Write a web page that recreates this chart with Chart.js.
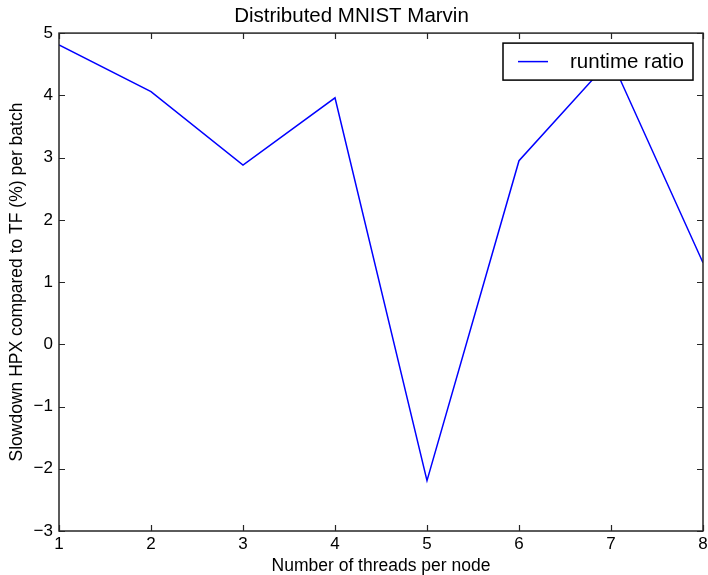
<!DOCTYPE html>
<html>
<head>
<meta charset="utf-8">
<script src="https://cdn.jsdelivr.net/npm/chart.js@4/dist/chart.umd.min.js"></script>
<style>
  html, body { margin: 0; padding: 0; background: #ffffff; }
  canvas { display: block; }
</style>
</head>
<body>
<canvas id="c" width="708" height="575"></canvas>
<script>
const threadsPerNode = [1, 2, 3, 4, 5, 6, 7, 8];
const runtimeRatio = [4.81, 4.06, 2.88, 3.96, -2.19, 2.95, 4.58, 1.31];
const xTicks = [1, 2, 3, 4, 5, 6, 7, 8];
const yTicks = [-3, -2, -1, 0, 1, 2, 3, 4, 5];
const seriesLabel = 'runtime ratio';
const chartTitle = 'Distributed MNIST Marvin';
const xTitle = 'Number of threads per node';
const yTitle = 'Slowdown HPX compared to TF (%) per batch';

const FONT = '"Liberation Sans", Arial, sans-serif';
const fmt = v => String(v).replace('-', '\u2212');

const frame = {
  id: 'frame',
  afterDatasetsDraw(chart) {
    const {ctx, chartArea: a, scales} = chart;
    ctx.save();
    ctx.strokeStyle = '#262626';
    ctx.lineWidth = 1.2;
    const T = 6;
    ctx.beginPath();
    scales.x.ticks.forEach(t => {
      const px = Math.round(scales.x.getPixelForValue(t.value)) + 0.5;
      ctx.moveTo(px, a.bottom); ctx.lineTo(px, a.bottom - T);
      ctx.moveTo(px, a.top); ctx.lineTo(px, a.top + T);
    });
    scales.y.ticks.forEach(t => {
      const py = Math.round(scales.y.getPixelForValue(t.value)) + 0.5;
      ctx.moveTo(a.left, py); ctx.lineTo(a.left + T, py);
      ctx.moveTo(a.right, py); ctx.lineTo(a.right - T, py);
    });
    ctx.stroke();
    ctx.lineWidth = 1.5;
    ctx.strokeRect(a.left, a.top, a.right - a.left, a.bottom - a.top);

    // legend box
    const ds = chart.data.datasets[0];
    const bw = 190, bh = 37;
    const bx = a.right - 10 - bw, by = a.top + 10;
    ctx.fillStyle = '#ffffff';
    ctx.fillRect(bx, by, bw, bh);
    ctx.strokeStyle = '#000000';
    ctx.lineWidth = 1.5;
    ctx.strokeRect(bx, by, bw, bh);
    ctx.strokeStyle = ds.borderColor;
    ctx.lineWidth = ds.borderWidth;
    ctx.beginPath();
    ctx.moveTo(bx + 15, by + bh / 2);
    ctx.lineTo(bx + 45, by + bh / 2);
    ctx.stroke();
    ctx.fillStyle = '#000000';
    ctx.font = '20.5px ' + FONT;
    ctx.textBaseline = 'middle';
    ctx.textAlign = 'left';
    ctx.fillText(ds.label, bx + 67, by + bh / 2 + 1);
    ctx.restore();
  }
};

new Chart(document.getElementById('c'), {
  type: 'line',
  data: {
    datasets: [{
      label: seriesLabel,
      data: threadsPerNode.map((t, i) => ({x: t, y: runtimeRatio[i]})),
      borderColor: '#0000ff',
      borderWidth: 1.5,
      pointRadius: 0,
      tension: 0,
      fill: false
    }]
  },
  options: {
    responsive: false,
    animation: false,
    layout: { padding: { right: 5, left: 0, top: 0, bottom: 0 } },
    plugins: {
      legend: { display: false },
      tooltip: { enabled: false },
      title: {
        display: true,
        text: chartTitle,
        color: '#000000',
        font: { family: FONT, size: 20.5, weight: 'normal', lineHeight: 1.2 },
        padding: { top: 4.5, bottom: 4 }
      }
    },
    scales: {
      x: {
        type: 'linear',
        min: 1, max: 8,
        afterBuildTicks: s => { s.ticks = xTicks.map(v => ({value: v})); },
        afterFit: s => { s.height = 44; s.paddingLeft = 0; s.paddingRight = 0; },
        grid: { display: false, drawTicks: false },
        border: { display: false },
        ticks: {
          color: '#000000',
          padding: 3,
          maxRotation: 0,
          font: { family: FONT, size: 17 },
          callback: v => fmt(v)
        },
        title: {
          display: true,
          text: xTitle,
          color: '#000000',
          font: { family: FONT, size: 17.5, lineHeight: 1.0 },
          padding: { top: 0, bottom: 0 }
        }
      },
      y: {
        min: -3, max: 5,
        afterBuildTicks: s => { s.ticks = yTicks.map(v => ({value: v})); },
        afterFit: s => { s.width = 59; s.paddingTop = 0; s.paddingBottom = 0; },
        grid: { display: false, drawTicks: false },
        border: { display: false },
        ticks: {
          color: '#000000',
          padding: 6,
          font: { family: FONT, size: 17 },
          callback: v => fmt(v)
        },
        title: {
          display: true,
          text: yTitle,
          color: '#000000',
          font: { family: FONT, size: 17.5, lineHeight: 1.2 },
          padding: { top: 7, bottom: 0 }
        }
      }
    }
  },
  plugins: [frame]
});
</script>
</body>
</html>
